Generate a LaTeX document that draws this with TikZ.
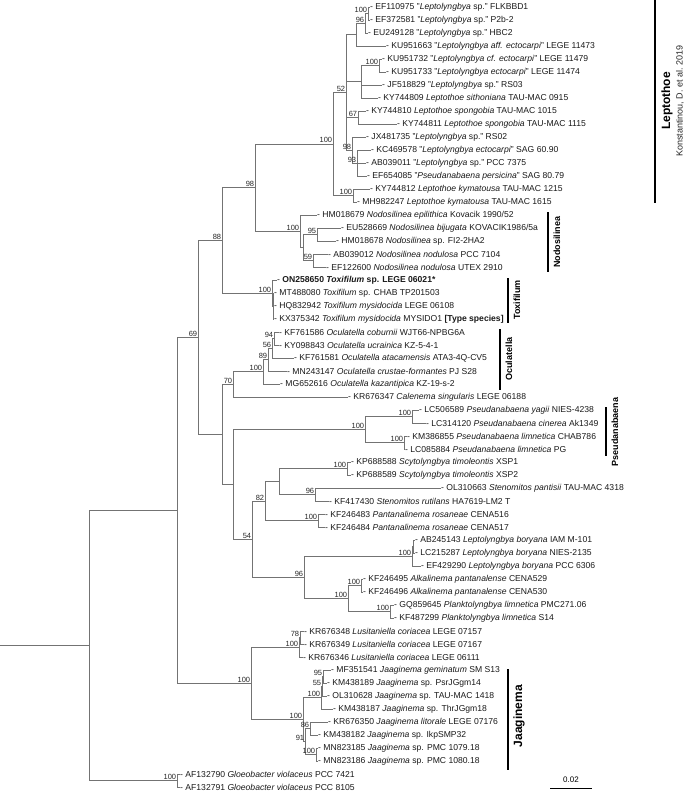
\documentclass[tikz,border=0pt]{standalone}
\usepackage{fontspec}
\setmainfont{Liberation Sans}
\usetikzlibrary{positioning,calc}

\begin{document}
\begin{tikzpicture}[x=1pt, y=-1pt,
branch/.style={draw=black!55, line width=0.8pt},
leaf/.style={anchor=west, inner sep=0pt, font=\fontsize{8.6}{10}\selectfont, text=black!90},
bs/.style={anchor=south east, inner sep=0.7pt, font=\fontsize{7.5}{8}\selectfont, text=black!85},
cladebar/.style={draw=black, line width=1.4pt},
cladename/.style={rotate=90, font=\bfseries\fontsize{9}{10}\selectfont},
bigname/.style={rotate=90, font=\bfseries\fontsize{12}{14}\selectfont},
refname/.style={rotate=90, font=\fontsize{9}{10}\selectfont, text=black!85}
]
\useasboundingbox (0,0) rectangle (685,795);

% leaves
\node[leaf] (l01) at (370,7) {- EF110975 "\textit{Leptolyngbya} sp." FLKBBD1};
\node[leaf] (l02) at (370,20) {- EF372581 "\textit{Leptolyngbya} sp." P2b-2};
\node[leaf] (l03) at (368,33) {- EU249128 "\textit{Leptolyngbya} sp." HBC2};
\node[leaf] (l04) at (386,46) {- KU951663 "\textit{Leptolyngbya aff. ectocarpi}" LEGE 11473};
\node[leaf] (l05) at (382,59) {- KU951732 "\textit{Leptolyngbya cf. ectocarpi}" LEGE 11479};
\node[leaf] (l06) at (386,72) {- KU951733 "\textit{Leptolyngbya ectocarpi}" LEGE 11474};
\node[leaf] (l07) at (382,85) {- JF518829 "\textit{Leptolyngbya} sp." RS03};
\node[leaf] (l08) at (378,98) {- KY744809 \textit{Leptothoe sithoniana} TAU-MAC 0915};
\node[leaf] (l09) at (366,111) {- KY744810 \textit{Leptothoe spongobia} TAU-MAC 1015};
\node[leaf] (l10) at (397,124) {- KY744811 \textit{Leptothoe spongobia} TAU-MAC 1115};
\node[leaf] (l11) at (366,137) {- JX481735 "\textit{Leptolyngbya} sp." RS02};
\node[leaf] (l12) at (371,150) {- KC469578 "\textit{Leptolyngbya ectocarpi}" SAG 60.90};
\node[leaf] (l13) at (366,163) {- AB039011 "\textit{Leptolyngbya} sp." PCC 7375};
\node[leaf] (l14) at (367,176) {- EF654085 "\textit{Pseudanabaena persicina}" SAG 80.79};
\node[leaf] (l15) at (370,189) {- KY744812 \textit{Leptothoe kymatousa} TAU-MAC 1215};
\node[leaf] (l16) at (357,202) {- MH982247 \textit{Leptothoe kymatousa} TAU-MAC 1615};
\node[leaf] (l17) at (317,215) {- HM018679 \textit{Nodosilinea epilithica} Kovacik 1990/52};
\node[leaf] (l18) at (341,228) {- EU528669 \textit{Nodosilinea bijugata} KOVACIK1986/5a};
\node[leaf] (l19) at (336,241) {- HM018678 \textit{Nodosilinea} sp. FI2-2HA2};
\node[leaf] (l20) at (328,254) {- AB039012 \textit{Nodosilinea nodulosa} PCC 7104};
\node[leaf] (l21) at (326,267) {- EF122600 \textit{Nodosilinea nodulosa} UTEX 2910};
\node[leaf] (l22) at (277,280) {- \textbf{ON258650 \textit{Toxifilum} sp. LEGE 06021*}};
\node[leaf] (l23) at (274,293) {- MT488080 \textit{Toxifilum} sp. CHAB TP201503};
\node[leaf] (l24) at (274,306) {- HQ832942 \textit{Toxifilum mysidocida} LEGE 06108};
\node[leaf] (l25) at (274,319) {- KX375342 \textit{Toxifilum mysidocida} MYSIDO1 \textbf{[Type species]}};
\node[leaf] (l26) at (279,332) {- KF761586 \textit{Oculatella coburnii} WJT66-NPBG6A};
\node[leaf] (l27) at (279,345) {- KY098843 \textit{Oculatella ucrainica} KZ-5-4-1};
\node[leaf] (l28) at (294,358) {- KF761581 \textit{Oculatella atacamensis} ATA3-4Q-CV5};
\node[leaf] (l29) at (287,371) {- MN243147 \textit{Oculatella crustae-formantes} PJ S28};
\node[leaf] (l30) at (280,384) {- MG652616 \textit{Oculatella kazantipica} KZ-19-s-2};
\node[leaf] (l31) at (348,397) {- KR676347 \textit{Calenema singularis} LEGE 06188};
\node[leaf] (l32) at (419,410) {- LC506589 \textit{Pseudanabaena yagii} NIES-4238};
\node[leaf] (l33) at (426,423) {- LC314120 \textit{Pseudanabaena cinerea} Ak1349};
\node[leaf] (l34) at (407,436) {- KM386855 \textit{Pseudanabaena limnetica} CHAB786};
\node[leaf] (l35) at (405,449) {- LC085884 \textit{Pseudanabaena limnetica} PG};
\node[leaf] (l36) at (351,462) {- KP688588 \textit{Scytolyngbya timoleontis} XSP1};
\node[leaf] (l37) at (351,475) {- KP688589 \textit{Scytolyngbya timoleontis} XSP2};
\node[leaf] (l38) at (441,488) {- OL310663 \textit{Stenomitos pantisii} TAU-MAC 4318};
\node[leaf] (l39) at (329,501) {- KF417430 \textit{Stenomitos rutilans} HA7619-LM2 T};
\node[leaf] (l40) at (325,514) {- KF246483 \textit{Pantanalinema rosaneae} CENA516};
\node[leaf] (l41) at (325,527) {- KF246484 \textit{Pantanalinema rosaneae} CENA517};
\node[leaf] (l42) at (415,540) {- AB245143 \textit{Leptolyngbya boryana} IAM M-101};
\node[leaf] (l43) at (415,553) {- LC215287 \textit{Leptolyngbya boryana} NIES-2135};
\node[leaf] (l44) at (421,566) {- EF429290 \textit{Leptolyngbya boryana} PCC 6306};
\node[leaf] (l45) at (363,579) {- KF246495 \textit{Alkalinema pantanalense} CENA529};
\node[leaf] (l46) at (363,592) {- KF246496 \textit{Alkalinema pantanalense} CENA530};
\node[leaf] (l47) at (394,605) {- GQ859645 \textit{Planktolyngbya limnetica} PMC271.06};
\node[leaf] (l48) at (394,618) {- KF487299 \textit{Planktolyngbya limnetica} S14};
\node[leaf] (l49) at (304,631) {- KR676348 \textit{Lusitaniella coriacea} LEGE 07157};
\node[leaf] (l50) at (304,644) {- KR676349 \textit{Lusitaniella coriacea} LEGE 07167};
\node[leaf] (l51) at (303,657) {- KR676346 \textit{Lusitaniella coriacea} LEGE 06111};
\node[leaf] (l52) at (331,670) {- MF351541 \textit{Jaaginema geminatum} SM S13};
\node[leaf] (l53) at (327,683) {- KM438189 \textit{Jaaginema} sp. PsrJGgm14};
\node[leaf] (l54) at (327,696) {- OL310628 \textit{Jaaginema} sp. TAU-MAC 1418};
\node[leaf] (l55) at (333,709) {- KM438187 \textit{Jaaginema} sp. ThrJGgm18};
\node[leaf] (l56) at (328,722) {- KR676350 \textit{Jaaginema litorale} LEGE 07176};
\node[leaf] (l57) at (318,735) {- KM438182 \textit{Jaaginema} sp. IkpSMP32};
\node[leaf] (l58) at (318,748) {- MN823185 \textit{Jaaginema} sp. PMC 1079.18};
\node[leaf] (l59) at (318,761) {- MN823186 \textit{Jaaginema} sp. PMC 1080.18};
\node[leaf] (l60) at (180,774) {- AF132790 \textit{Gloeobacter violaceus} PCC 7421};
\node[leaf] (l61) at (180,787) {- AF132791 \textit{Gloeobacter violaceus} PCC 8105};

% internal nodes
\coordinate (start) at (0,645.4);
\coordinate (root) at (89,645.4);
\coordinate (gloeo) at (177,780.5);
\coordinate (ingroup) at (177,510.4);
\coordinate (n69) at (198,337.3);
\coordinate (n88) at (222,240.3);
\coordinate (n98) at (255,187.6);
\coordinate (lepto) at (333,143.9);
\coordinate (n52) at (346,92.3);
\coordinate (t1) at (356,34.6);
\coordinate (n96) at (365,23.25);
\coordinate (flk) at (368,13.5);
\coordinate (t2) at (361,81.75);
\coordinate (ecto) at (379,65.5);
\coordinate (n67) at (358,117.5);
\coordinate (rs02) at (352,150);
\coordinate (n93) at (357,163);
\coordinate (kyma) at (353,195.5);
\coordinate (nodo) at (300,231.25);
\coordinate (nodoin) at (303,247.5);
\coordinate (n95) at (317,234.5);
\coordinate (n59) at (313,260.5);
\coordinate (toxi) at (272,293);
\coordinate (toxin) at (273,306);
\coordinate (lower) at (222,434.4);
\coordinate (n70) at (233,384.4);
\coordinate (ocul) at (263,371.8);
\coordinate (n89) at (268,359.6);
\coordinate (n56) at (272,348.25);
\coordinate (n94) at (274,338.5);
\coordinate (mid) at (233,484.3);
\coordinate (pseud) at (365,429.5);
\coordinate (pseuda) at (412,416.5);
\coordinate (pseudb) at (404,442.5);
\coordinate (n54) at (252,539.2);
\coordinate (n82) at (265,501);
\coordinate (scst) at (279,481.5);
\coordinate (scyto) at (347,468.5);
\coordinate (steno) at (315,494.5);
\coordinate (panta) at (318,520.5);
\coordinate (n96b) at (304,577.4);
\coordinate (bory) at (412,556.25);
\coordinate (boryin) at (413,546.5);
\coordinate (alpl) at (348,598.5);
\coordinate (alka) at (361,585.5);
\coordinate (plank) at (390,611.5);
\coordinate (lusjaa) at (251,683.4);
\coordinate (lusit) at (299,647.25);
\coordinate (n78) at (300,637.5);
\coordinate (jaagi) at (303,719.5);
\coordinate (jaaga) at (321,697.5);
\coordinate (n55) at (322,686);
\coordinate (n95j) at (323,676.5);
\coordinate (n91) at (305,741.5);
\coordinate (n86) at (310,728.5);
\coordinate (pmc) at (316,754.5);

% branches
\draw[branch] (start) -- (root);
\draw[branch] (root) |- (ingroup) (root) |- (gloeo);
\draw[branch] (gloeo) |- (l60.west) (gloeo) |- (l61.west);
\draw[branch] (ingroup) |- (n69) (ingroup) |- (lusjaa);
\draw[branch] (n69) |- (n88) (n69) |- (lower);
\draw[branch] (n88) |- (n98) (n88) |- (toxi);
\draw[branch] (n98) |- (lepto) (n98) |- (nodo);
\draw[branch] (lepto) |- (n52) (lepto) |- (kyma);
\draw[branch] (n52) |- (t1) (n52) |- (t2) (n52) |- (n67) (n52) |- (rs02);
\draw[branch] (t1) |- (n96) (t1) |- (l04.west);
\draw[branch] (n96) |- (flk) (n96) |- (l03.west);
\draw[branch] (flk) |- (l01.west) (flk) |- (l02.west);
\draw[branch] (t2) |- (ecto) (t2) |- (l07.west) (t2) |- (l08.west);
\draw[branch] (ecto) |- (l05.west) (ecto) |- (l06.west);
\draw[branch] (n67) |- (l09.west) (n67) |- (l10.west);
\draw[branch] (rs02) |- (l11.west) (rs02) |- (n93);
\draw[branch] (n93) |- (l12.west) (n93) |- (l13.west) (n93) |- (l14.west);
\draw[branch] (kyma) |- (l15.west) (kyma) |- (l16.west);
\draw[branch] (nodo) |- (l17.west) (nodo) |- (nodoin);
\draw[branch] (nodoin) |- (n95) (nodoin) |- (n59);
\draw[branch] (n95) |- (l18.west) (n95) |- (l19.west);
\draw[branch] (n59) |- (l20.west) (n59) |- (l21.west);
\draw[branch] (toxi) |- (l22.west) (toxi) |- (toxin);
\draw[branch] (toxin) |- (l23.west) (toxin) |- (l24.west) (toxin) |- (l25.west);
\draw[branch] (lower) |- (n70) (lower) |- (mid);
\draw[branch] (n70) |- (ocul) (n70) |- (l31.west);
\draw[branch] (ocul) |- (n89) (ocul) |- (l30.west);
\draw[branch] (n89) |- (n56) (n89) |- (l29.west);
\draw[branch] (n56) |- (n94) (n56) |- (l28.west);
\draw[branch] (n94) |- (l26.west) (n94) |- (l27.west);
\draw[branch] (mid) |- (pseud) (mid) |- (n54);
\draw[branch] (pseud) |- (pseuda) (pseud) |- (pseudb);
\draw[branch] (pseuda) |- (l32.west) (pseuda) |- (l33.west);
\draw[branch] (pseudb) |- (l34.west) (pseudb) |- (l35.west);
\draw[branch] (n54) |- (n82) (n54) |- (n96b);
\draw[branch] (n82) |- (scst) (n82) |- (panta);
\draw[branch] (scst) |- (scyto) (scst) |- (steno);
\draw[branch] (scyto) |- (l36.west) (scyto) |- (l37.west);
\draw[branch] (steno) |- (l38.west) (steno) |- (l39.west);
\draw[branch] (panta) |- (l40.west) (panta) |- (l41.west);
\draw[branch] (n96b) |- (bory) (n96b) |- (alpl);
\draw[branch] (bory) |- (boryin) (bory) |- (l44.west);
\draw[branch] (boryin) |- (l42.west) (boryin) |- (l43.west);
\draw[branch] (alpl) |- (alka) (alpl) |- (plank);
\draw[branch] (alka) |- (l45.west) (alka) |- (l46.west);
\draw[branch] (plank) |- (l47.west) (plank) |- (l48.west);
\draw[branch] (lusjaa) |- (lusit) (lusjaa) |- (jaagi);
\draw[branch] (lusit) |- (n78) (lusit) |- (l51.west);
\draw[branch] (n78) |- (l49.west) (n78) |- (l50.west);
\draw[branch] (jaagi) |- (jaaga) (jaagi) |- (n91);
\draw[branch] (jaaga) |- (n55) (jaaga) |- (l55.west);
\draw[branch] (n55) |- (n95j) (n55) |- (l54.west);
\draw[branch] (n95j) |- (l52.west) (n95j) |- (l53.west);
\draw[branch] (n91) |- (n86) (n91) |- (pmc);
\draw[branch] (n86) |- (l56.west) (n86) |- (l57.west);
\draw[branch] (pmc) |- (l58.west) (pmc) |- (l59.west);

% bootstrap values
\node[bs] (bgloeo) at (gloeo) {100};
\node[bs] (b69) at (n69) {69};
\node[bs] (b88) at (n88) {88};
\node[bs] (b98) at (n98) {98};
\node[bs] (blepto) at (lepto) {100};
\node[bs] (b52) at (n52) {52};
\node[bs] (b96) at (n96) {96};
\node[bs] (bflk) at (flk) {100};
\node[bs] (becto) at (ecto) {100};
\node[bs] (b67) at (n67) {67};
\node[bs] (brs02) at (rs02) {98};
\node[bs] (b93) at (n93) {93};
\node[bs] (bkyma) at (kyma) {100};
\node[bs] (bnodo) at (nodo) {100};
\node[bs] (b95) at (n95) {95};
\node[bs] (b59) at (n59) {59};
\node[bs] (btoxi) at (toxi) {100};
\node[bs] (b70) at (n70) {70};
\node[bs] (bocul) at (ocul) {100};
\node[bs] (b89) at (n89) {89};
\node[bs] (b56) at (n56) {56};
\node[bs] (b94) at (n94) {94};
\node[bs] (bpseud) at (pseud) {100};
\node[bs] (bpseuda) at (pseuda) {100};
\node[bs] (bpseudb) at (pseudb) {100};
\node[bs] (b54) at (n54) {54};
\node[bs] (b82) at (n82) {82};
\node[bs] (bscyto) at (scyto) {100};
\node[bs] (bsteno) at (steno) {96};
\node[bs] (bpanta) at (panta) {100};
\node[bs] (b96b) at (n96b) {96};
\node[bs] (bbory) at (bory) {100};
\node[bs] (balpl) at (alpl) {100};
\node[bs] (balka) at (alka) {100};
\node[bs] (bplank) at (plank) {100};
\node[bs] (blusjaa) at (lusjaa) {100};
\node[bs] (blusit) at (lusit) {100};
\node[bs] (b78) at (n78) {78};
\node[bs] (bjaagi) at (jaagi) {100};
\node[bs] (bjaaga) at (jaaga) {100};
\node[bs] (b55) at (n55) {55};
\node[bs] (b95j) at (n95j) {95};
\node[bs] (b91) at (n91) {91};
\node[bs] (b86) at (n86) {86};
\node[bs] (bpmc) at (pmc) {100};

% clade bars
\coordinate (leptoTop) at (655,0);
\coordinate (leptoBot) at (655,203);
\draw[cladebar] (leptoTop) -- (leptoBot);
\node[bigname] (leptoName) at (667,101) {Leptothoe};
\node[refname] (leptoRef) at (680,101) {Konstantinou, D. et al. 2019};
\coordinate (nodoTop) at (548,212);
\coordinate (nodoBot) at (548,272);
\draw[cladebar] (nodoTop) -- (nodoBot);
\node[cladename] (nodoName) at (557,242) {Nodosilinea};
\coordinate (toxiTop) at (508,278);
\coordinate (toxiBot) at (508,323);
\draw[cladebar] (toxiTop) -- (toxiBot);
\node[cladename] (toxiName) at (517,300) {Toxifilum};
\coordinate (oculTop) at (500,329);
\coordinate (oculBot) at (500,390);
\draw[cladebar] (oculTop) -- (oculBot);
\node[cladename] (oculName) at (509,359) {Oculatella};
\coordinate (pseudTop) at (606,407);
\coordinate (pseudBot) at (606,456);
\draw[cladebar] (pseudTop) -- (pseudBot);
\node[cladename] (pseudName) at (615,432) {Pseudanabaena};
\coordinate (jaagTop) at (508,669);
\coordinate (jaagBot) at (508,770);
\draw[cladebar] (jaagTop) -- (jaagBot);
\node[bigname] (jaagName) at (519,716) {Jaaginema};

% scale bar
\coordinate (scaleL) at (550,788);
\coordinate (scaleR) at (592,788);
\draw[black, line width=0.9pt] (scaleL) -- (scaleR);
\node[font=\fontsize{8}{9}\selectfont, above=1.5pt of $(scaleL)!0.5!(scaleR)$] (scaleText) {0.02};
\end{tikzpicture}
\end{document}
